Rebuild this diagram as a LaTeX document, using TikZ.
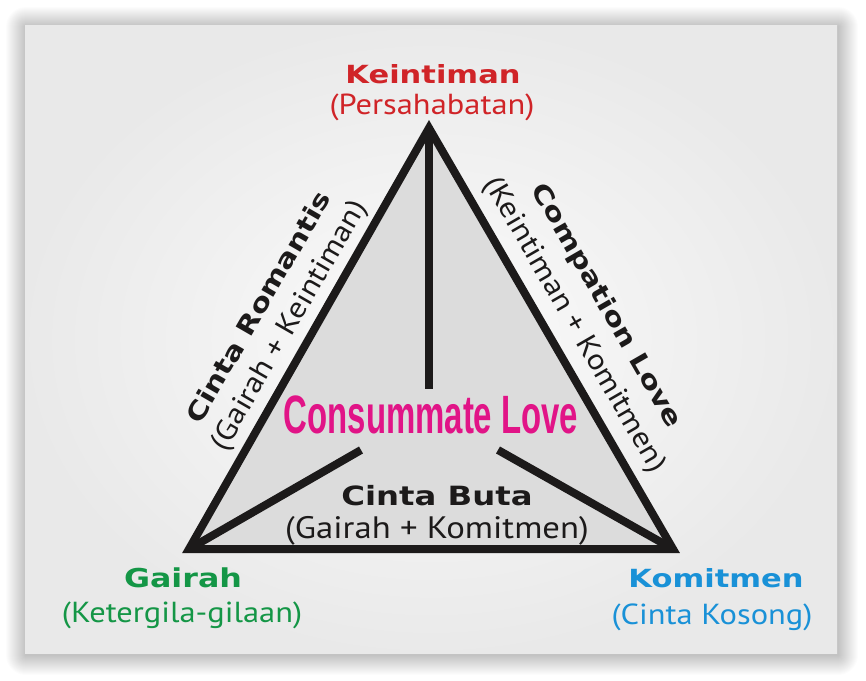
\documentclass[tikz,border=0pt]{standalone}
\usepackage{fontspec}
\newfontfamily\headfont{DejaVu Sans}[FakeStretch=1.22]
\newfontfamily\subfont{PT Sans}[FakeStretch=1.12]
\newfontfamily\lovefont{Liberation Sans}[FakeStretch=0.61]
\definecolor{keired}{RGB}{208,36,40}
\definecolor{gaigreen}{RGB}{20,150,70}
\definecolor{komblue}{RGB}{25,145,215}
\definecolor{lovepink}{RGB}{225,20,135}
\definecolor{edgeblack}{RGB}{28,26,26}
\definecolor{trifill}{RGB}{220,220,220}
\tikzset{
    head/.style={inner sep=0pt, font=\headfont\bfseries\fontsize{25}{25}\selectfont},
    sub/.style={inner sep=0pt, font=\subfont\fontsize{29}{29}\selectfont},
    edge/.style={line width=8pt, draw=edgeblack},
}
\begin{document}
\begin{tikzpicture}[x=1pt, y=-1pt]
        \useasboundingbox (0,0) rectangle (866,680);
        \fill[white] (0,0) rectangle (866,680);
        \foreach \s in {1,...,20}
            {
                \fill[black, opacity=0.012, rounded corners=\s pt] (25-\s+1,25-\s+2) rectangle (837+\s+1,653+\s+2);
            }
        \shade[inner color=white!97!gray, outer color=white!83!gray] (25,25) rectangle (837,653);
        % triangle
        \coordinate (kei) at (429,128);
        \coordinate (gai) at (189,549);
        \coordinate (kom) at (673,549);
        \coordinate (vmid) at (429,389);
        \coordinate (lmid) at (361,450);
        \coordinate (rmid) at (498,450);
        \draw[edge, fill=trifill, line join=miter] (kei)--(gai)--(kom)--cycle;
        \draw[edge] (kei)--(vmid);
        \draw[edge] (gai)--(lmid);
        \draw[edge] (kom)--(rmid);
        % corners
        \node[head, keired] (keintiman) at (433,74) {Keintiman};
        \node[sub, keired] (persahabatan) at (432,107) {(Persahabatan)};
        \node[head, gaigreen, font=\headfont\bfseries\fontsize{26}{26}\selectfont] (gairah) at (183,578) {Gairah};
        \node[sub, gaigreen] (gila) at (182,615) {(Ketergila-gilaan)};
        \node[head, komblue] (komitmen) at (716,578) {Komitmen};
        \node[sub, komblue] (kosong) at (712,617) {(Cinta Kosong)};
        % inside and sides
        \node[inner sep=0pt, lovepink, font=\lovefont\bfseries\fontsize{54}{54}\selectfont] (consummate) at (431,415) {Consummate Love};
        \node[head, edgeblack, font=\headfont\bfseries\fontsize{26.5}{26.5}\selectfont] (buta) at (437,496) {Cinta Buta};
        \node[sub, edgeblack, font=\subfont\fontsize{31}{31}\selectfont] (butasub) at (437,531) {(Gairah + Komitmen)};
        \node[head, edgeblack, rotate=60] (romantis) at (258,307) {Cinta Romantis};
        \node[sub, edgeblack, rotate=60] (romantissub) at (290,326) {(Gairah + Keintiman)};
        \node[head, edgeblack, rotate=-60] (compation) at (606,306) {Compation Love};
        \node[sub, edgeblack, rotate=-60] (compationsub) at (574,325) {(Keintiman + Komitmen)};
    \end{tikzpicture}
\end{document}
